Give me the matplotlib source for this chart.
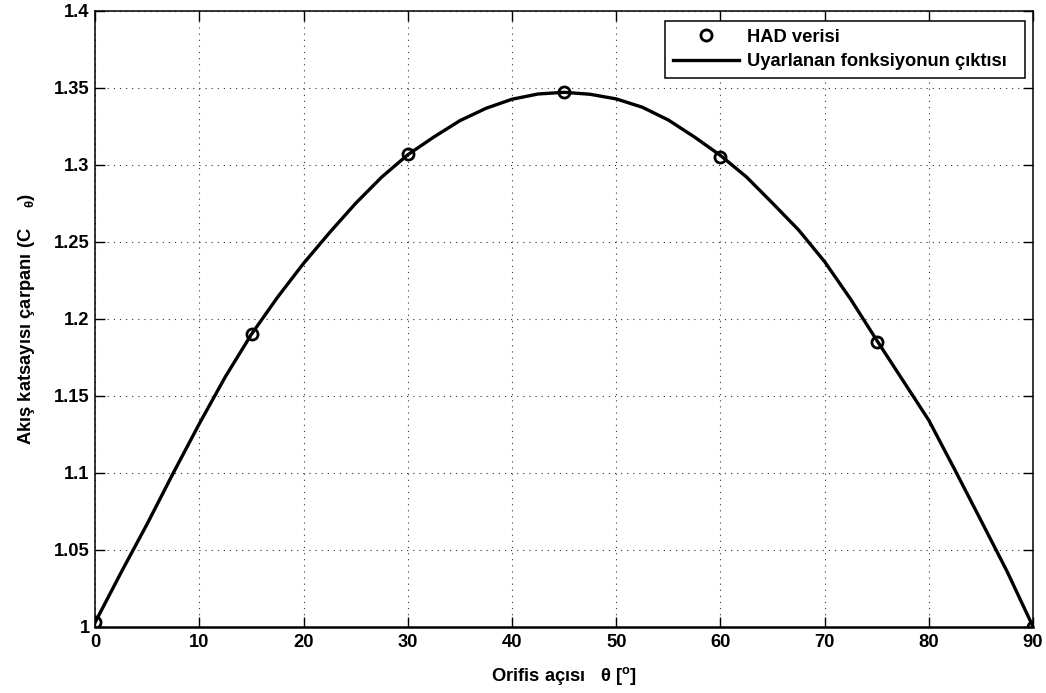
import matplotlib
matplotlib.use("Agg")
import matplotlib.pyplot as plt
from matplotlib.ticker import FormatStrFormatter

# ---- data ----
had_angle = [0, 15, 30, 45, 60, 75, 90]
had_value = [1.003, 1.190, 1.307, 1.347, 1.305, 1.185, 1.000]

fit_angle = [0, 2.5, 5, 7.5, 10, 12.5, 15, 17.5, 20, 22.5, 25, 27.5, 30, 32.5, 35, 37.5,
             40, 42.5, 45, 47.5, 50, 52.5, 55, 57.5, 60, 62.5, 65, 67.5, 70, 72.5, 75,
             77.5, 80, 82.5, 85, 87.5, 90]
fit_value = [1.003, 1.0355, 1.067, 1.100, 1.132, 1.1625, 1.190, 1.214, 1.236, 1.256,
             1.275, 1.292, 1.3065, 1.318, 1.3286, 1.3366, 1.3425, 1.3459, 1.347, 1.3457,
             1.3427, 1.3373, 1.329, 1.318, 1.306, 1.292, 1.275, 1.2576, 1.237, 1.2126,
             1.186, 1.160, 1.134, 1.1018, 1.069, 1.036, 1.000]

x_ticks = [0, 10, 20, 30, 40, 50, 60, 70, 80, 90]
y_ticks = [1.0, 1.05, 1.1, 1.15, 1.2, 1.25, 1.3, 1.35, 1.4]

legend_labels = ["HAD verisi", "Uyarlanan fonksiyonun çıktısı  "]
x_label = "Orifis açısı   θ [$^{\\mathrm{o}}$]"
y_label = "Akış katsayısı çarpanı (C    $_{θ}$)"

plt.rcParams['font.family'] = ['Liberation Sans', 'DejaVu Sans']
plt.rcParams['font.weight'] = 'bold'
plt.rcParams['mathtext.fontset'] = 'custom'
plt.rcParams['mathtext.rm'] = 'Liberation Sans:bold'
plt.rcParams['mathtext.bf'] = 'Liberation Sans:bold'
plt.rcParams['mathtext.it'] = 'Liberation Sans:bold'
plt.rcParams['mathtext.default'] = 'rm'

fig = plt.figure(figsize=(10.46, 6.93), dpi=100)
ax = fig.add_axes([0.0911, 0.0957, 0.8965, 0.8889])

ax.plot(had_angle, had_value, linestyle='none', marker='o', markersize=8,
        markerfacecolor='none', markeredgecolor='black', markeredgewidth=2.0,
        label=legend_labels[0], zorder=4)
ax.plot(fit_angle, fit_value, color='black', linewidth=2.4,
        label=legend_labels[1], zorder=3, solid_joinstyle='round')

ax.set_xlim(0, 90)
ax.set_ylim(1.0, 1.4)
ax.set_xticks(x_ticks)
ax.set_yticks(y_ticks)
ax.yaxis.set_major_formatter(FormatStrFormatter('%g'))

ax.grid(True, color='#333333', linestyle=(0, (1, 4.5)), linewidth=0.8)
ax.set_axisbelow(True)

ax.tick_params(direction='in', length=7, width=1, top=True, right=True,
               labelsize=13.2, colors='black')
ax.tick_params(axis='x', pad=5.5)
ax.tick_params(axis='y', pad=4)
for lbl in ax.get_xticklabels() + ax.get_yticklabels():
    lbl.set_fontweight('bold')

for s in ax.spines.values():
    s.set_linewidth(1.1)
    s.set_color('black')
ax.spines['bottom'].set_linewidth(1.8)

ax.set_xlabel(x_label, fontsize=13.2, fontweight='bold', labelpad=10)
ax.set_ylabel(y_label, fontsize=13.2, fontweight='bold', labelpad=12)

leg = ax.legend(loc='upper right', bbox_to_anchor=(0.9915, 0.9838), borderaxespad=0,
                fontsize=13.2, frameon=True, fancybox=False, edgecolor='black',
                handlelength=3.6, handletextpad=0.4, labelspacing=0.4,
                borderpad=0.45)
leg.get_frame().set_linewidth(1.1)
leg.get_frame().set_alpha(1)
for t in leg.get_texts():
    t.set_fontweight('bold')

fig.savefig('out.png', dpi=100)
